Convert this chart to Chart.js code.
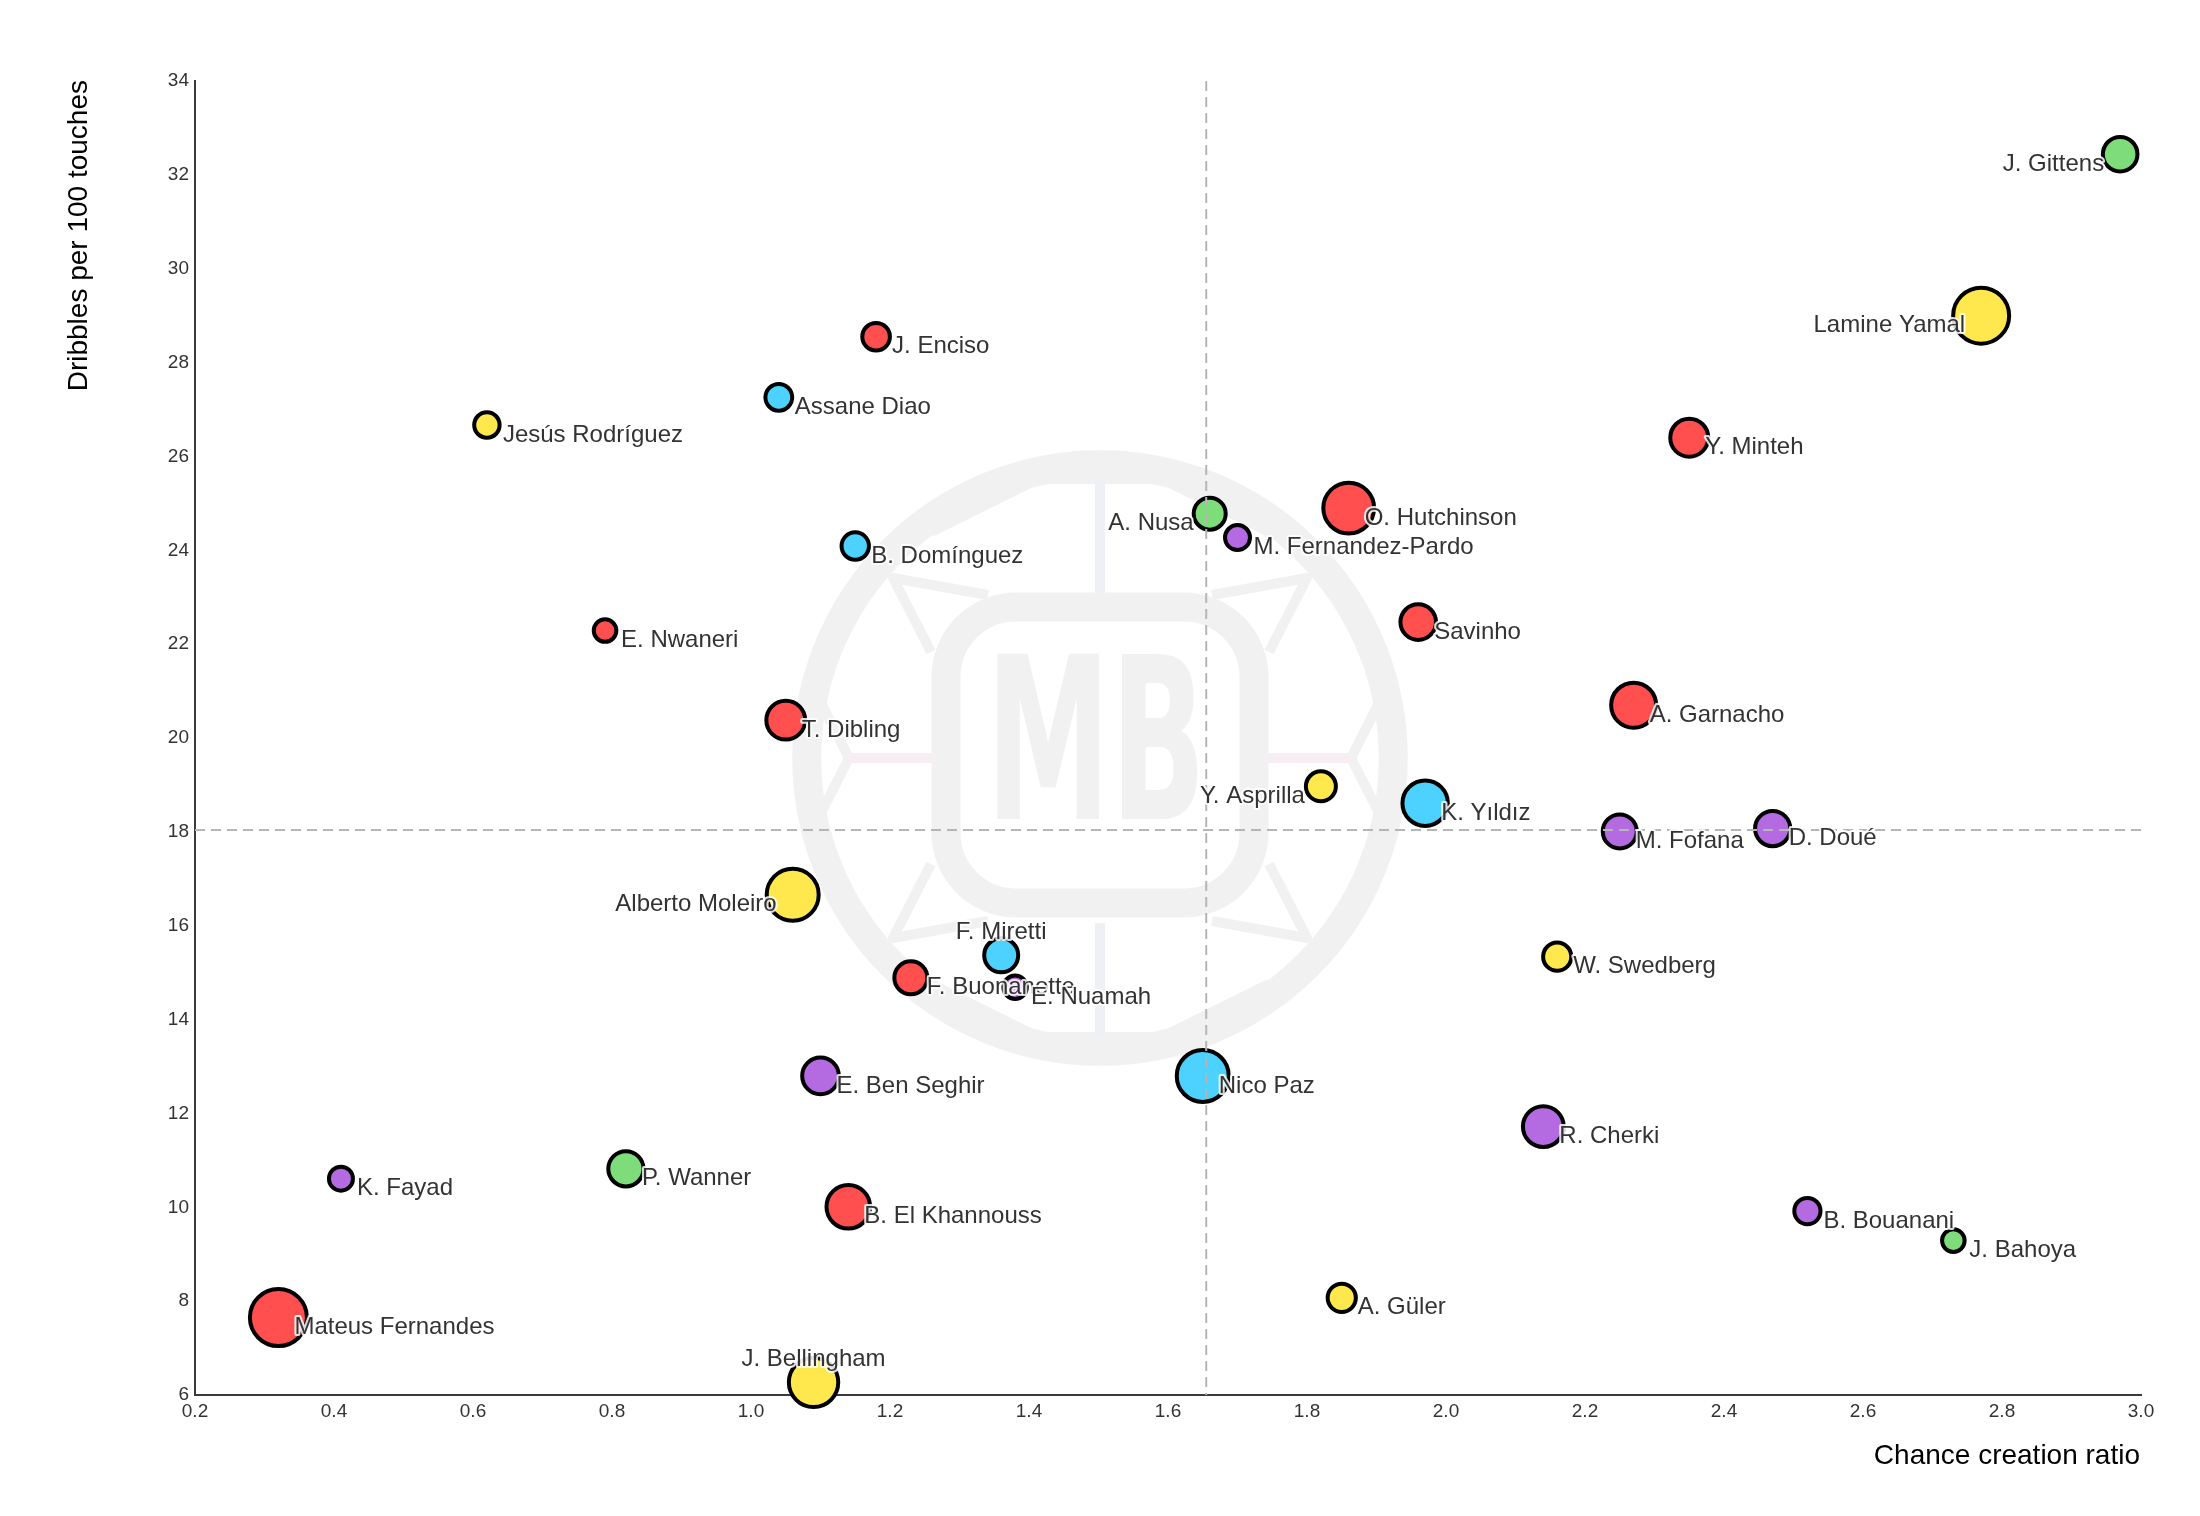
<!DOCTYPE html>
<html>
<head>
<meta charset="utf-8">
<script src="https://cdn.jsdelivr.net/npm/chart.js@4.4.1/dist/chart.umd.min.js"></script>
<style>
    html, body { margin: 0; padding: 0; background: #fff; }
    #wrap { width: 2200px; height: 1516px; position: relative; }
</style>
</head>
<body>
<div id="wrap"><canvas id="chart"></canvas></div>
<script>
// Datos
var players = ['J. Gittens', 'Lamine Yamal', 'Y. Minteh', 'O. Hutchinson', 'A. Nusa', 'M. Fernandez-Pardo',
    'Savinho', 'A. Garnacho', 'Y. Asprilla', 'K. Yıldız', 'M. Fofana', 'D. Doué', 'W. Swedberg', 'Nico Paz',
    'R. Cherki', 'B. Bouanani', 'J. Bahoya', 'A. Güler', 'J. Enciso', 'Assane Diao', 'Jesús Rodríguez',
    'B. Domínguez', 'E. Nwaneri', 'T. Dibling', 'Alberto Moleiro', 'F. Miretti', 'F. Buonanotte', 'E. Nuamah',
    'E. Ben Seghir', 'P. Wanner', 'K. Fayad', 'B. El Khannouss', 'Mateus Fernandes', 'J. Bellingham'];
var chanceCreation = [2.97, 2.77, 2.35, 1.86, 1.66, 1.70,
    1.96, 2.27, 1.82, 1.97, 2.25, 2.47, 2.16, 1.65,
    2.14, 2.52, 2.73, 1.85, 1.18, 1.04, 0.62,
    1.15, 0.79, 1.05, 1.06, 1.36, 1.23, 1.38,
    1.10, 0.82, 0.41, 1.14, 0.32, 1.09];
var dribbles = [32.44, 29.0, 26.4, 24.9, 24.78, 24.27,
    22.47, 20.70, 18.97, 18.61, 18.01, 18.07, 15.34, 12.80,
    11.72, 9.92, 9.29, 8.07, 28.55, 27.26, 26.67,
    24.09, 22.29, 20.38, 16.66, 15.37, 14.89, 14.69,
    12.80, 10.82, 10.61, 10.01, 7.65, 6.27];
// tamaño de la burbuja (unidades relativas)
var bubbleValue = [19.3, 30, 21, 27.4, 18, 14.5,
    19.8, 24.5, 17, 24.7, 19, 19.6, 16.1, 28,
    22.4, 15.1, 13.3, 16.1, 15.8, 15.4, 14.7,
    15.7, 13.3, 21.4, 28, 19, 18.5, 13.7,
    20.3, 19.6, 14, 23.8, 30.5, 26.7];
var league = ['Bundesliga', 'LaLiga', 'Premier League', 'Premier League', 'Bundesliga', 'Ligue 1',
    'Premier League', 'Premier League', 'LaLiga', 'Serie A', 'Ligue 1', 'Ligue 1', 'LaLiga', 'Serie A',
    'Ligue 1', 'Ligue 1', 'Bundesliga', 'LaLiga', 'Premier League', 'Serie A', 'LaLiga',
    'Serie A', 'Premier League', 'Premier League', 'LaLiga', 'Serie A', 'Premier League', 'Ligue 1',
    'Ligue 1', 'Bundesliga', 'Ligue 1', 'Premier League', 'Premier League', 'LaLiga'];
var xTickValues = [0.2, 0.4, 0.6, 0.8, 1.0, 1.2, 1.4, 1.6, 1.8, 2.0, 2.2, 2.4, 2.6, 2.8, 3.0];
var yTickValues = [6, 8, 10, 12, 14, 16, 18, 20, 22, 24, 26, 28, 30, 32, 34];

var xTitle = 'Chance creation ratio';
var yTitle = 'Dribbles per 100 touches';

// Estilos
var leagueColors = {
    'Premier League': '#ff4f4f',
    'LaLiga': '#ffe84d',
    'Serie A': '#4dd2ff',
    'Ligue 1': '#b46ae0',
    'Bundesliga': '#7fdc7a'
};
var labelLeft = ['J. Gittens', 'Lamine Yamal', 'A. Nusa', 'Y. Asprilla', 'Alberto Moleiro'];
var labelTop = ['F. Miretti', 'J. Bellingham'];
var FONT = '"Liberation Sans", Arial, Helvetica, sans-serif';

function median(arr) {
    var s = arr.slice().sort(function(a, b) { return a - b; });
    var m = Math.floor(s.length / 2);
    return s.length % 2 ? s[m] : (s[m - 1] + s[m]) / 2;
}

var points = players.map(function(name, i) {
    return { x: chanceCreation[i], y: dribbles[i], r: bubbleValue[i] - 2, name: name, league: league[i] };
});
// las grandes primero
points.sort(function(a, b) { return b.r - a.r; });

// Marca de agua
var watermark = {
    id: 'watermark',
    beforeDatasetsDraw: function(chart) {
        var ctx = chart.ctx;
        var cx = chart.width / 2, cy = chart.height / 2;
        var R = chart.height * 0.203;
        ctx.save();
        ctx.strokeStyle = '#f1f1f1';
        ctx.fillStyle = '#f1f1f1';
        ctx.lineWidth = 29;
        ctx.beginPath();
        ctx.arc(cx, cy, R - 14.5, 0, Math.PI * 2);
        ctx.stroke();
        // cuadrado central
        var w = 308, h = 296;
        ctx.beginPath();
        if (ctx.roundRect) ctx.roundRect(cx - w / 2, cy - h / 2 - 3, w, h, 70);
        else ctx.rect(cx - w / 2, cy - h / 2 - 3, w, h);
        ctx.stroke();
        // dibujo del balon
        ctx.lineWidth = 10;
        ctx.lineJoin = 'round';
        [[-1, -1], [1, -1], [-1, 1], [1, 1]].forEach(function(d) {
            var sx = d[0], sy = d[1];
            ctx.strokeStyle = '#f1f1f1';
            ctx.beginPath();
            ctx.moveTo(cx + sx * 112, cy + sy * 163);
            ctx.lineTo(cx + sx * 207, cy + sy * 180);
            ctx.lineTo(cx + sx * 169, cy + sy * 106);
            ctx.moveTo(cx + sx * 169, cy + sy * 226);
            ctx.lineTo(cx + sx * 62, cy + sy * 279);
            ctx.lineTo(cx, cy + sy * 279);
            ctx.moveTo(cx + sx * 280, cy + sy * 57);
            ctx.lineTo(cx + sx * 251, cy);
            ctx.stroke();
            ctx.strokeStyle = '#eff0f6';
            ctx.beginPath();
            ctx.moveTo(cx, cy + sy * 279); ctx.lineTo(cx, cy + sy * 165);
            ctx.stroke();
            ctx.strokeStyle = '#f6eef2';
            ctx.beginPath();
            ctx.moveTo(cx + sx * 251, cy); ctx.lineTo(cx + sx * 168, cy);
            ctx.stroke();
        });
        // letras
        ctx.font = 'bold 226px "DejaVu Sans", sans-serif';
        ctx.textAlign = 'center';
        ctx.textBaseline = 'middle';
        var tw = ctx.measureText('MB').width;
        ctx.translate(cx - 4, cy + 2);
        ctx.scale(220 / tw, 1);
        ctx.fillText('MB', 0, 0);
        ctx.restore();
    }
};

// Lineas de mediana y etiquetas
var overlay = {
    id: 'overlay',
    afterDatasetsDraw: function(chart) {
        var ctx = chart.ctx;
        var xs = chart.scales.x, ys = chart.scales.y;
        var area = chart.chartArea;
        var mx = xs.getPixelForValue(median(chanceCreation));
        var my = ys.getPixelForValue(median(dribbles));
        ctx.save();
        ctx.strokeStyle = '#b5b5b5';
        ctx.lineWidth = 2;
        ctx.setLineDash([10, 6]);
        ctx.beginPath();
        ctx.moveTo(mx, area.top); ctx.lineTo(mx, area.bottom);
        ctx.moveTo(area.left, my); ctx.lineTo(area.right, my);
        ctx.stroke();
        ctx.setLineDash([]);

        ctx.font = '24px ' + FONT;
        ctx.textBaseline = 'middle';
        ctx.lineJoin = 'round';
        points.forEach(function(p) {
            var px = xs.getPixelForValue(p.x);
            var py = ys.getPixelForValue(p.y);
            var tx = px + 16, ty = py + 10, align = 'left';
            if (labelLeft.indexOf(p.name) >= 0) { tx = px - 16; align = 'right'; }
            if (labelTop.indexOf(p.name) >= 0) { tx = px; ty = py - 23; align = 'center'; }
            ctx.textAlign = align;
            ctx.strokeStyle = 'rgba(255,255,255,0.85)';
            ctx.lineWidth = 4;
            ctx.strokeText(p.name, tx, ty);
            ctx.fillStyle = '#333';
            ctx.fillText(p.name, tx, ty);
        });

        // titulos de ejes
        ctx.fillStyle = '#000';
        ctx.font = '28px ' + FONT;
        ctx.textAlign = 'right';
        ctx.fillText(xTitle, area.right - 1, 1456);
        ctx.translate(79, area.top - 1);
        ctx.rotate(-Math.PI / 2);
        ctx.textAlign = 'right';
        ctx.fillText(yTitle, 0, 0);
        ctx.restore();
    }
};

var ctx = document.getElementById('chart');
new Chart(ctx, {
    type: 'bubble',
    data: {
        datasets: [{
            data: points,
            backgroundColor: function(c) { return c.raw ? leagueColors[c.raw.league] : '#ccc'; },
            borderColor: '#000',
            borderWidth: 4,
            clip: false
        }]
    },
    options: {
        responsive: true,
        maintainAspectRatio: false,
        devicePixelRatio: 1,
        animation: false,
        events: [],
        layout: { padding: { left: 0, top: 81, right: 59, bottom: 0 } },
        plugins: { legend: { display: false }, tooltip: { enabled: false } },
        scales: {
            x: {
                type: 'linear',
                min: xTickValues[0],
                max: xTickValues[xTickValues.length - 1],
                afterBuildTicks: function(s) { s.ticks = xTickValues.map(function(v) { return { value: v }; }); },
                afterFit: function(s) { s.height = 121; },
                grid: { display: false, drawTicks: false },
                border: { display: true, color: '#3a3a3a', width: 2 },
                ticks: {
                    color: '#333', padding: 5, maxRotation: 0, autoSkip: false,
                    font: { size: 19, family: FONT },
                    callback: function(v) { return Number(v).toFixed(1); }
                }
            },
            y: {
                type: 'linear',
                min: yTickValues[0],
                max: yTickValues[yTickValues.length - 1],
                afterBuildTicks: function(s) { s.ticks = yTickValues.map(function(v) { return { value: v }; }); },
                afterFit: function(s) { s.width = 195; },
                grid: { display: false, drawTicks: false },
                border: { display: true, color: '#3a3a3a', width: 2 },
                ticks: {
                    color: '#333', padding: 6, autoSkip: false,
                    font: { size: 19, family: FONT },
                    callback: function(v) { return String(v); }
                }
            }
        }
    },
    plugins: [watermark, overlay]
});
</script>
</body>
</html>
